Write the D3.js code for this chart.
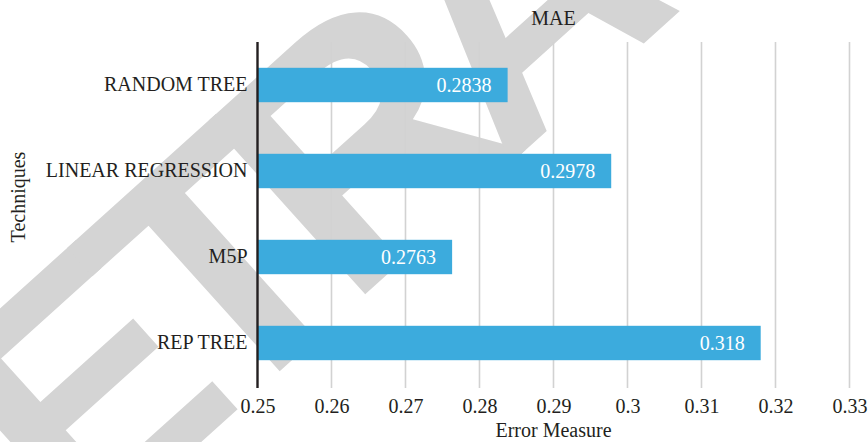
<!DOCTYPE html>
<html>
<head>
<meta charset="utf-8">
<script src="https://cdn.jsdelivr.net/npm/d3@7"></script>
<style>
  html, body { margin: 0; padding: 0; background: #ffffff; }
  svg { display: block; }
</style>
</head>
<body>
<svg id="chart" width="868" height="442"></svg>
<script>
// Techniques compared by mean absolute error
const techniques = ["RANDOM TREE", "LINEAR REGRESSION", "M5P", "REP TREE"];
const maeValues = [0.2838, 0.2978, 0.2763, 0.318];
const xTicks = [0.25, 0.26, 0.27, 0.28, 0.29, 0.3, 0.31, 0.32, 0.33];
const stampWord = "RETRACTED";

const width = 868, height = 442;
const margin = { top: 42, right: 18.5, bottom: 56, left: 257.5 };
const serif = "'Liberation Serif', 'Times New Roman', serif";

const svg = d3.select("#chart");

// Diagonal stamp behind the chart; the third letter is pinned to a point
const stampAngle = -42;
const stampSize = 340;
const stampPin = [216, 264];
const stampG = svg.append("g")
  .attr("transform", `translate(${stampPin[0]},${stampPin[1]}) rotate(${stampAngle})`);
const stampText = stampG.append("text")
  .attr("font-family", "'Liberation Sans', Arial, sans-serif")
  .attr("font-weight", "bold")
  .attr("font-size", stampSize)
  .attr("letter-spacing", -36)
  .attr("dy", "0.36em")
  .attr("fill", "#d4d4d4")
  .text(stampWord);
const pinStart = stampText.node().getStartPositionOfChar(2).x;
stampText.attr("x", -(pinStart + 0.611 * stampSize / 2));

const x = d3.scaleLinear()
  .domain([0.25, 0.33])
  .range([margin.left, width - margin.right]);

const y = d3.scaleBand()
  .domain(techniques)
  .range([margin.top, height - margin.bottom])
  .paddingInner(0.6)
  .paddingOuter(0.3);

const plotBottom = height - margin.bottom + 2;

// Vertical grid lines
svg.append("g")
  .attr("class", "grid")
  .selectAll("line")
  .data(xTicks.slice(1))
  .join("line")
  .attr("x1", d => x(d)).attr("x2", d => x(d))
  .attr("y1", margin.top).attr("y2", plotBottom)
  .attr("stroke", "#d2d2d2")
  .attr("stroke-width", 1.6);

// Bars
svg.append("g")
  .selectAll("rect")
  .data(techniques)
  .join("rect")
  .attr("x", x(0.25))
  .attr("y", d => y(d))
  .attr("width", (d, i) => x(maeValues[i]) - x(0.25))
  .attr("height", y.bandwidth())
  .attr("fill", "#3cabdd");

// Value labels inside the bars
svg.append("g")
  .selectAll("text")
  .data(techniques)
  .join("text")
  .attr("x", (d, i) => x(maeValues[i]) - 16)
  .attr("y", d => y(d) + y.bandwidth() / 2)
  .attr("dy", "0.36em")
  .attr("text-anchor", "end")
  .attr("font-family", serif)
  .attr("font-size", 20)
  .attr("fill", "#ffffff")
  .text((d, i) => String(maeValues[i]));

// Bottom axis: tick labels only
const xAxis = d3.axisBottom(x)
  .tickValues(xTicks)
  .tickFormat(d => String(+d.toFixed(2)))
  .tickSize(0)
  .tickPadding(8);

const gx = svg.append("g")
  .attr("transform", `translate(0,${plotBottom + 3})`)
  .call(xAxis);
gx.select(".domain").remove();
gx.selectAll("text")
  .attr("font-family", serif)
  .attr("font-size", 20)
  .attr("fill", "#231f20");

// Left axis: category labels
const yAxis = d3.axisLeft(y).tickSize(0).tickPadding(10);
const gy = svg.append("g")
  .attr("transform", `translate(${margin.left},0)`)
  .call(yAxis);
gy.select(".domain").remove();
gy.selectAll("text")
  .attr("font-family", serif)
  .attr("font-size", 20)
  .attr("fill", "#231f20");

// Baseline at 0.25
svg.append("line")
  .attr("x1", x(0.25)).attr("x2", x(0.25))
  .attr("y1", margin.top).attr("y2", plotBottom)
  .attr("stroke", "#231f20")
  .attr("stroke-width", 2.4);

// Titles
const plotCenter = (x.range()[0] + x.range()[1]) / 2;
svg.append("text")
  .attr("x", plotCenter).attr("y", 25)
  .attr("text-anchor", "middle")
  .attr("font-family", serif).attr("font-size", 20)
  .attr("fill", "#231f20")
  .text("MAE");

svg.append("text")
  .attr("x", plotCenter).attr("y", 437)
  .attr("text-anchor", "middle")
  .attr("font-family", serif).attr("font-size", 20)
  .attr("fill", "#231f20")
  .text("Error Measure");

svg.append("text")
  .attr("transform", "translate(25,197) rotate(-90)")
  .attr("text-anchor", "middle")
  .attr("font-family", serif).attr("font-size", 20)
  .attr("fill", "#231f20")
  .text("Techniques");
</script>
</body>
</html>
